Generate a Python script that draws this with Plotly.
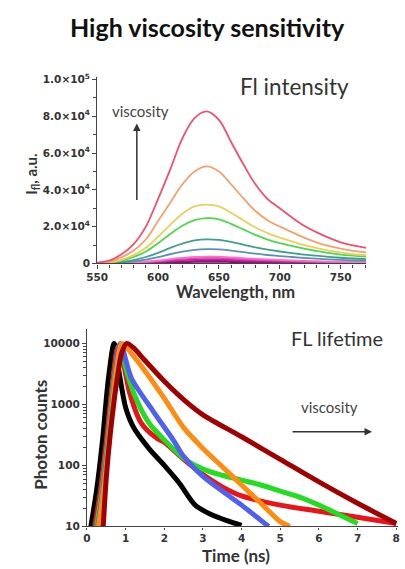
import plotly.graph_objects as go

# ---------------- Top panel: emission spectra (values in units of 1e4) ----------------
wavelength = [550, 560, 570, 580, 590, 600, 610, 620, 630, 640, 650, 660, 670, 680,
              690, 700, 710, 720, 730, 740, 750, 760, 771]
spec_red = [0.05, 0.15, 0.5, 1.05, 2.0, 3.5, 5.1, 6.8, 7.9, 8.26, 7.8, 6.6, 5.4, 4.3,
            3.5, 3.0, 2.5, 2.05, 1.7, 1.4, 1.15, 0.98, 0.85]
spec_orange = [0.03, 0.1, 0.33, 0.7, 1.3, 2.3, 3.3, 4.3, 5.0, 5.27, 5.0, 4.3, 3.55, 2.85,
               2.35, 2.0, 1.7, 1.4, 1.15, 0.95, 0.8, 0.68, 0.6]
spec_yellow = [0.02, 0.06, 0.2, 0.45, 0.85, 1.45, 2.1, 2.7, 3.1, 3.2, 3.1, 2.75, 2.35, 1.95,
               1.65, 1.4, 1.2, 1.0, 0.85, 0.7, 0.6, 0.5, 0.45]
spec_green = [0.01, 0.05, 0.15, 0.35, 0.65, 1.1, 1.6, 2.05, 2.35, 2.46, 2.4, 2.15, 1.85, 1.55,
              1.3, 1.1, 0.95, 0.8, 0.68, 0.57, 0.48, 0.42, 0.37]
spec_teal = [0.01, 0.03, 0.08, 0.18, 0.35, 0.57, 0.85, 1.08, 1.25, 1.31, 1.28, 1.17, 1.02, 0.87,
             0.75, 0.65, 0.56, 0.48, 0.42, 0.36, 0.31, 0.27, 0.24]
spec_steel = [0.0, 0.02, 0.05, 0.11, 0.21, 0.34, 0.5, 0.64, 0.74, 0.78, 0.77, 0.7, 0.62, 0.53,
              0.46, 0.4, 0.35, 0.3, 0.26, 0.22, 0.19, 0.17, 0.15]
spec_pink = [0, 0.01, 0.02, 0.05, 0.1, 0.16, 0.24, 0.30, 0.35, 0.37, 0.37, 0.33, 0.29, 0.25,
             0.22, 0.19, 0.17, 0.14, 0.12, 0.10, 0.09, 0.08, 0.07]
spec_magenta = [0, 0.01, 0.02, 0.04, 0.08, 0.13, 0.19, 0.25, 0.29, 0.30, 0.30, 0.27, 0.24, 0.20,
                0.18, 0.15, 0.13, 0.11, 0.10, 0.08, 0.07, 0.06, 0.06]
spec_violet = [0, 0, 0.01, 0.03, 0.06, 0.10, 0.14, 0.18, 0.21, 0.22, 0.22, 0.20, 0.17, 0.15,
               0.13, 0.11, 0.10, 0.08, 0.07, 0.06, 0.05, 0.05, 0.04]
spec_purple = [0, 0, 0.01, 0.02, 0.04, 0.07, 0.10, 0.12, 0.14, 0.15, 0.15, 0.14, 0.12, 0.10,
               0.09, 0.08, 0.07, 0.06, 0.05, 0.04, 0.04, 0.03, 0.03]
spec_dark = [0, 0, 0, 0.01, 0.02, 0.04, 0.06, 0.07, 0.085, 0.09, 0.09, 0.08, 0.07, 0.06,
             0.05, 0.05, 0.04, 0.03, 0.03, 0.03, 0.02, 0.02, 0.02]

spectra = [
    (spec_dark, "#7a1070"), (spec_purple, "#a01888"), (spec_violet, "#c02898"),
    (spec_magenta, "#e040b8"), (spec_pink, "#ff70cc"), (spec_steel, "#5a90b8"),
    (spec_teal, "#3f9f90"), (spec_green, "#4cd84a"), (spec_yellow, "#ead05a"),
    (spec_orange, "#f5a070"), (spec_red, "#f0506c"),
]
y_top_ticks = [0, 2e4, 4e4, 6e4, 8e4, 1e5]
y_top_labels = ["0", "2.0×10<sup>4</sup>", "4.0×10<sup>4</sup>", "6.0×10<sup>4</sup>",
                "8.0×10<sup>4</sup>", "1.0×10<sup>5</sup>"]

# ---------------- Bottom panel: decay curves (time ns, log10 counts) ----------------
t_black = [0.1, 0.25, 0.4, 0.55, 0.7, 0.85, 1.0, 1.2, 1.6, 2.0, 2.4, 2.8, 3.2, 3.6, 4.0]
lg_black = [1.0, 1.6, 2.4, 3.4, 4.0, 3.45, 2.95, 2.63, 2.28, 2.0, 1.7, 1.35, 1.2, 1.1, 1.02]
t_red = [0.2, 0.35, 0.5, 0.65, 0.8, 0.9, 1.1, 1.4, 1.8, 2.0, 2.5, 3.0, 3.5, 4.0, 5.0, 6.0, 7.0, 8.0]
lg_red = [1.0, 1.6, 2.4, 3.3, 3.95, 3.8, 3.2, 2.7, 2.45, 2.38, 2.1, 1.85, 1.65, 1.5, 1.35, 1.25, 1.15, 1.05]
t_green = [0.25, 0.4, 0.55, 0.7, 0.85, 1.0, 1.2, 1.6, 2.0, 2.5, 3.0, 3.5, 4.0, 4.5, 5.0, 5.5, 6.0, 6.5, 7.0]
lg_green = [1.0, 1.65, 2.5, 3.4, 3.98, 3.6, 3.2, 2.7, 2.42, 2.12, 1.94, 1.84, 1.76, 1.68, 1.58, 1.48, 1.35, 1.2, 1.05]
t_blue = [0.28, 0.42, 0.57, 0.72, 0.86, 1.15, 1.7, 2.25, 2.5, 3.0, 3.5, 4.0, 4.5, 4.7]
lg_blue = [1.0, 1.65, 2.5, 3.4, 4.0, 3.43, 2.9, 2.4, 2.15, 1.82, 1.58, 1.35, 1.1, 1.0]
t_orange = [0.3, 0.45, 0.6, 0.75, 0.9, 1.0, 1.5, 2.0, 2.5, 3.0, 3.5, 4.0, 4.5, 5.0, 5.25]
lg_orange = [1.0, 1.7, 2.6, 3.5, 4.0, 3.95, 3.55, 3.1, 2.62, 2.28, 1.98, 1.68, 1.38, 1.08, 1.0]
t_darkred = [0.42, 0.5, 0.6, 0.7, 0.8, 0.9, 1.03, 1.2, 1.5, 2.0, 2.5, 3.0, 4.0, 5.0, 6.0, 7.0, 8.0]
lg_darkred = [1.0, 1.8, 2.5, 3.05, 3.5, 3.85, 4.0, 3.93, 3.72, 3.38, 3.08, 2.83, 2.47, 2.10, 1.73, 1.38, 1.05]

decays = [
    (t_black, lg_black, "#000000"), (t_red, lg_red, "#e8141a"),
    (t_green, lg_green, "#22dd22"), (t_blue, lg_blue, "#5060f0"),
    (t_orange, lg_orange, "#ff8c10"), (t_darkred, lg_darkred, "#a00000"),
]
y_bot_ticks = [10, 100, 1000, 10000]
y_bot_labels = ["10", "100", "1000", "10000"]

W, H = 405, 569
def px(x):
    return x / W
def py(y):
    return 1 - y / H

fig = go.Figure()
for vals, col in spectra:
    fig.add_trace(go.Scatter(x=wavelength, y=[v * 1e4 for v in vals], mode="lines",
                             line=dict(color=col, width=1.8, shape="spline"),
                             xaxis="x", yaxis="y", showlegend=False))
for t, lg, col in decays:
    fig.add_trace(go.Scatter(x=t, y=[10 ** v for v in lg], mode="lines",
                             line=dict(color=col, width=5, shape="spline", smoothing=0.8),
                             xaxis="x2", yaxis="y2", showlegend=False))

def tf(size):
    return dict(family="DejaVu Sans", size=size, color="#333333", weight="bold")

axis_common = dict(showline=True, linecolor="#444444", linewidth=1.2, showgrid=False,
                   zeroline=False, ticks="outside", tickcolor="#444444")

fig.update_layout(
    width=W, height=H, margin=dict(l=0, r=0, t=0, b=0),
    paper_bgcolor="white", plot_bgcolor="white",
    xaxis=dict(domain=[px(89), px(367)], range=[550, 771], tickvals=[550, 600, 650, 700, 750],
               anchor="y", tickfont=tf(10.5), ticklen=4,
               minor=dict(dtick=10, ticks="outside", ticklen=3, tickcolor="#444444"),
               **axis_common),
    yaxis=dict(domain=[py(263), py(73)], range=[0, 101060], tickvals=y_top_ticks,
               ticktext=y_top_labels, anchor="x", tickfont=tf(10.5), ticklen=4,
               minor=dict(dtick=1e4, ticks="outside", ticklen=3, tickcolor="#444444"),
               **axis_common),
    xaxis2=dict(domain=[px(78.5), px(400)], range=[0, 8.05], tickvals=list(range(9)),
                anchor="y2", tickfont=tf(10.5), ticklen=2, **axis_common),
    yaxis2=dict(domain=[py(531.7), py(330)], type="log", range=[1, 4.236],
                tickvals=y_bot_ticks, ticktext=y_bot_labels, anchor="x2", tickfont=tf(10.5),
                ticklen=4,
                minor=dict(ticks="outside", ticklen=3, tickcolor="#444444", dtick="D1"),
                **axis_common),
)

calibri = "Lato"
ann = [
    dict(x=px(203), y=py(21), text="<b>High viscosity sensitivity</b>",
         font=dict(family=calibri, size=25, color="#111111")),
    dict(x=px(293), y=py(82), text="Fl intensity", font=dict(family=calibri, size=22.5, color="#333333")),
    dict(x=px(134), y=py(107), text="viscosity", font=dict(family=calibri, size=15, color="#444444")),
    dict(x=px(337), y=py(339), text="FL lifetime", font=dict(family=calibri, size=20, color="#333333")),
    dict(x=px(329), y=py(410), text="viscosity", font=dict(family=calibri, size=15, color="#444444")),
    dict(x=px(22), y=py(172), text="<b>I<sub>fl</sub>, a.u.</b>", textangle=-90,
         font=dict(family=calibri, size=15, color="#333333")),
    dict(x=px(232), y=py(292), text="<b>Wavelength, nm</b>", font=dict(family=calibri, size=16.5, color="#333333")),
    dict(x=px(31), y=py(438), text="<b>Photon counts</b>", textangle=-90,
         font=dict(family=calibri, size=17, color="#333333")),
    dict(x=px(232), y=py(561), text="<b>Time (ns)</b>", font=dict(family=calibri, size=17, color="#333333")),
]
for a in ann:
    fig.add_annotation(xref="paper", yref="paper", showarrow=False, xanchor="center",
                       yanchor="middle", **a)

# arrows (tail offsets in pixels)
fig.add_annotation(xref="paper", yref="paper", x=px(130), y=py(120), ax=0, ay=78,
                   showarrow=True, arrowhead=2, arrowsize=1,
                   arrowwidth=1.5, arrowcolor="#333333", text="")
fig.add_annotation(xref="paper", yref="paper", x=px(373), y=py(435), ax=-81, ay=0,
                   showarrow=True, arrowhead=2, arrowsize=1,
                   arrowwidth=1.5, arrowcolor="#333333", text="")

fig.write_html("out.html")
